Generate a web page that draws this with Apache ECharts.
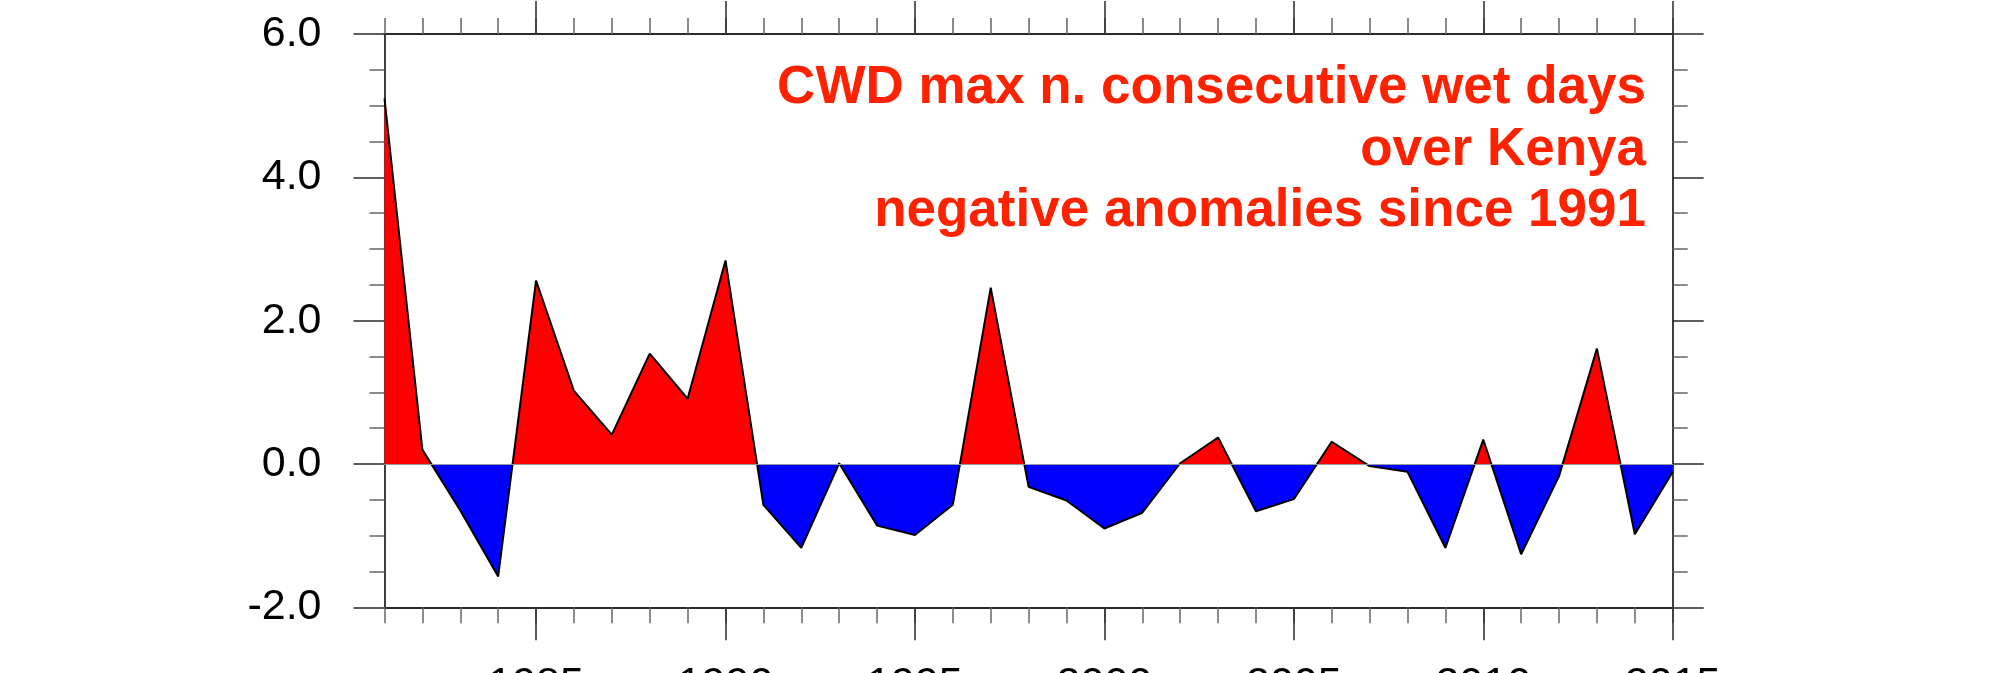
<!DOCTYPE html>
<html>
<head>
<meta charset="utf-8">
<script src="https://cdn.jsdelivr.net/npm/echarts@6/dist/echarts.min.js"></script>
<style>
html,body{margin:0;padding:0;background:#fff;}
#chart{width:2003px;height:673px;}
</style>
</head>
<body>
<div id="chart"></div>
<script>
var years = [1981,1982,1983,1984,1985,1986,1987,1988,1989,1990,1991,1992,1993,1994,1995,1996,1997,1998,1999,2000,2001,2002,2003,2004,2005,2006,2007,2008,2009,2010,2011,2012,2013,2014,2015];
var anomalies = [5.10,0.20,-0.65,-1.57,2.56,1.02,0.41,1.54,0.91,2.84,-0.57,-1.17,0.01,-0.86,-0.99,-0.57,2.46,-0.32,-0.51,-0.90,-0.68,0.01,0.37,-0.66,-0.49,0.31,-0.03,-0.11,-1.17,0.34,-1.26,-0.17,1.61,-0.98,-0.11];
var majorYears = [1985,1990,1995,2000,2005,2010,2015];
var titleLines = ['CWD max n. consecutive wet days','over Kenya','negative anomalies since 1991'];

var chart = echarts.init(document.getElementById('chart'), null, {renderer:'canvas'});
var axisColor = '#2a2a2a';
var font = 'Liberation Sans, Arial, Helvetica, sans-serif';

function xAx(pos, major, showLabel){
  var o = {
    type:'value', position:pos, min:1981, max:2015,
    axisLine:{show:true, onZero:false, lineStyle:{color:axisColor, width:1.8}},
    splitLine:{show:false},
    axisTick:{show:true, inside:false, length: major?33:16, lineStyle:{color: major?axisColor:'#666', width:1.5}},
    axisLabel:{show:showLabel, margin:56, color:'#000', fontSize:43, fontFamily:font, formatter:function(v){return String(v);}}
  };
  if(major){ o.axisTick.customValues = majorYears; o.axisLabel.customValues = majorYears; }
  else { o.interval = 1; }
  return o;
}
function yAx(pos, showLabel){
  return {
    type:'value', position:pos, min:-2, max:6, interval:2,
    axisLine:{show:true, onZero:false, lineStyle:{color:axisColor, width:1.8}},
    splitLine:{show:false},
    axisTick:{show:true, inside:false, length:31, lineStyle:{color:axisColor, width:1.5}},
    minorTick:{show:true, splitNumber:4, length:15, lineStyle:{color:'#666', width:1.5}},
    axisLabel:{show:showLabel, margin:63, color:'#000', fontSize:43, fontFamily:font, formatter:function(v){return v.toFixed(1);}}
  };
}

var zeroAxis = {
  type:'value', position:'bottom', min:1981, max:2015,
  axisLine:{show:true, onZero:true, onZeroAxisIndex:0, lineStyle:{color:'#999', width:1.2}},
  axisTick:{show:false}, axisLabel:{show:false}, splitLine:{show:false}, z:5
};

var option = {
  backgroundColor:'#fff',
  animation:false,
  grid:{left:384.5, right:330.3, top:34, bottom:65.7, containLabel:false, outerBoundsMode:'none'},
  xAxis:[xAx('bottom',false,false), xAx('bottom',true,true), xAx('top',false,false), xAx('top',true,false), zeroAxis],
  yAxis:[yAx('left',true), yAx('right',false)],
  visualMap:{
    show:false, type:'piecewise', dimension:1, seriesIndex:0,
    pieces:[{min:-100, max:0, color:'#0000ff'},{min:0, max:100, color:'#ff0000'}]
  },
  graphic:[{
    type:'text', x:1646, y:58,
    style:{text:titleLines.join('\n'), align:'right', verticalAlign:'top', fill:'#ff2200',
      font:'bold 53px ' + font, lineHeight:61.5}
  }],
  series:[{
    type:'line', xAxisIndex:0, yAxisIndex:0,
    data: years.map(function(y,i){return [y, anomalies[i]];}),
    showSymbol:false, symbol:'none',
    lineStyle:{color:'#000', width:2},
    areaStyle:{opacity:1},
    z:2
  }]
};
chart.setOption(option);
</script>
</body>
</html>
